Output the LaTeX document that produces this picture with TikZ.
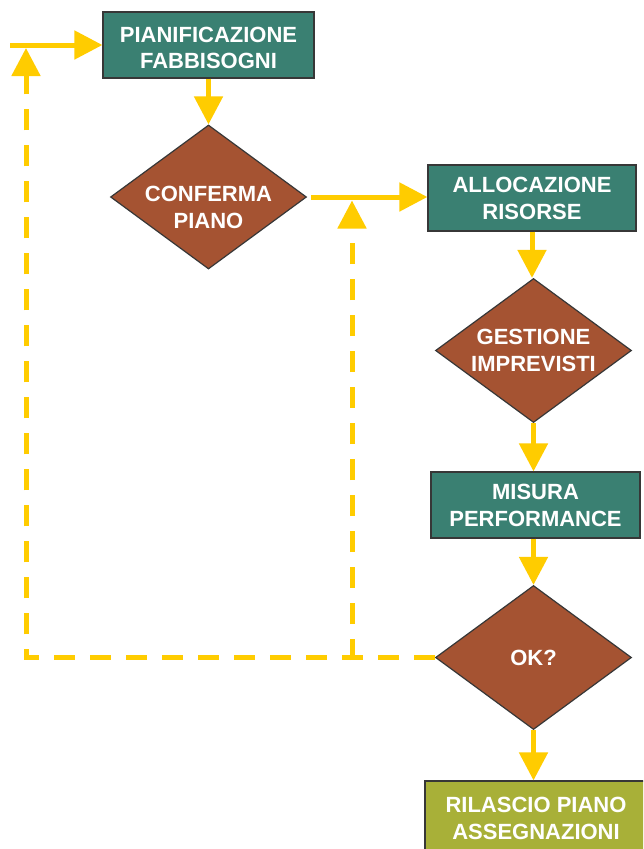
\documentclass[tikz,border=0pt]{standalone}
\usepackage{fontspec}
\setmainfont{Liberation Sans}
\usetikzlibrary{arrows.meta,shapes.geometric}
\definecolor{tealbox}{RGB}{58,128,114}
\definecolor{brownd}{RGB}{165,83,50}
\definecolor{olivebox}{RGB}{168,176,56}
\definecolor{yel}{RGB}{255,204,0}
\definecolor{edge}{RGB}{55,55,55}
\begin{document}
\begin{tikzpicture}[x=1pt,y=-1pt,
  lbl/.style={text=white, font=\bfseries\fontsize{22}{27}\selectfont, align=center, inner sep=0pt},
  box/.style={lbl, draw=edge, line width=1.2pt, fill=#1, minimum height=66pt},
  dia/.style={shape=diamond, draw=edge, line width=1.2pt, fill=brownd, inner sep=0pt, minimum width=196pt, minimum height=144pt},
  arr/.style={draw=yel, line width=5pt, -{Triangle[length=28pt,width=28pt]}},
  darr/.style={arr, dash pattern=on 21pt off 15pt}
]
\clip (0,0) rectangle (643,849);
\fill[white] (0,0) rectangle (643,849);

% nodes
\node[box=tealbox, minimum width=211pt] (b1) at (208.5,45) {};
\node[lbl, font=\bfseries\fontsize{22}{26}\selectfont] (t0) at ([yshift=-3pt]b1.center) {PIANIFICAZIONE\\FABBISOGNI};
\node[dia] (d1) at (208.5,197) {};
\node[lbl] (t1) at ([yshift=-10pt]d1.center) {CONFERMA\\PIANO};
\node[box=tealbox, minimum width=208pt] (b2) at (532,198) {ALLOCAZIONE\\RISORSE};
\node[dia] (d2) at (533.5,350.5) {};
\node[lbl] (t2) at (d2.center) {GESTIONE\\IMPREVISTI};
\node[box=tealbox, minimum width=209pt] (b3) at (535.5,505) {MISURA\\PERFORMANCE};
\node[dia] (d3) at (533.5,657.5) {};
\node[lbl] (t3) at (d3.center) {OK?};
\node[box=olivebox, minimum width=222pt, minimum height=75pt] (b4) at (536,818.5) {RILASCIO PIANO\\ASSEGNAZIONI};

% coordinates
\coordinate (in) at (10,45);
\coordinate (c1) at (26,659);
\coordinate (c1t) at (26,48);
\coordinate (j2) at (352,660);
\coordinate (j2t) at (352,200.5);

% connectors
\draw[arr] (in) -- (b1.west);
\draw[arr] (b1.south) -- (d1.north);
\draw[arr] ([xshift=4pt]d1.east) -- (d1.east -| b2.west);
\draw[arr] (b2.south) -- (b2.south |- d2.north);
\draw[arr] (d2.south) -- (d2.south |- b3.north);
\draw[arr] (d2.south |- b3.south) -- (d3.north);
\draw[arr] (d3.south) -- (d3.south |- b4.north);
\draw[darr] (d3.west) -- (d3.west -| c1) -- (c1t);
\draw[darr] (j2) -- (j2t);
\end{tikzpicture}
\end{document}
